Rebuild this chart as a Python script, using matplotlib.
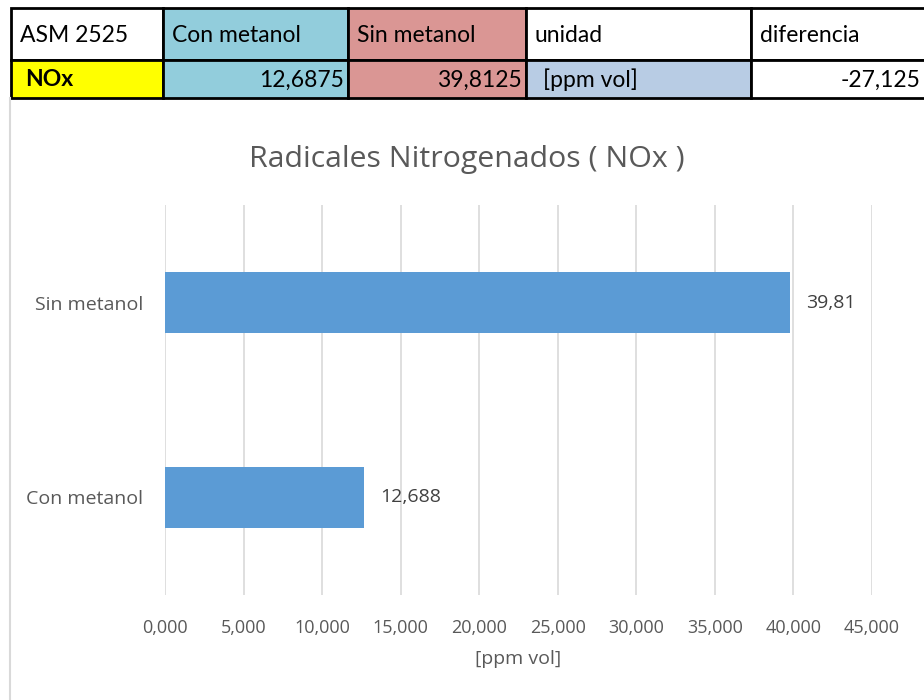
import matplotlib
matplotlib.use("Agg")
import matplotlib.pyplot as plt
from matplotlib.patches import Rectangle
from matplotlib.ticker import FuncFormatter

# ---- data ----
categories = ["Con metanol", "Sin metanol"]
values = [12.6875, 39.8125]
value_labels = ["12,688", "39,81"]
x_ticks = [0, 5, 10, 15, 20, 25, 30, 35, 40, 45]
title = "Radicales Nitrogenados ( NOx )"
x_label = "[ppm vol]"

table_header = ["ASM 2525", "Con metanol", "Sin metanol", "unidad", "diferencia"]
table_row = ["NOx", "12,6875", "39,8125", "[ppm vol]", "-27,125"]

W, H = 924, 700
fig = plt.figure(figsize=(W / 100, H / 100), dpi=100)
fig.patch.set_facecolor("white")

# ---- table overlay (pixel coordinates) ----
tax = fig.add_axes([0, 0, 1, 1])
tax.set_xlim(0, W)
tax.set_ylim(H, 0)
tax.axis("off")

col_edges = [11, 163, 348, 526, 751, 930]
row_edges = [8, 60, 98]
header_colors = ["white", "#92CDDC", "#DA9694", "white", "white"]
row_colors = ["#FFFF00", "#92CDDC", "#DA9694", "#B8CCE4", "white"]
row_align = ["left", "right", "right", "left", "right"]
tfont = "Lato"

for i in range(5):
    x0, x1 = col_edges[i], col_edges[i + 1]
    for r, (texts, colors) in enumerate([(table_header, header_colors), (table_row, row_colors)]):
        y0, y1 = row_edges[r], row_edges[r + 1]
        tax.add_patch(Rectangle((x0, y0), x1 - x0, y1 - y0, facecolor=colors[i],
                                edgecolor="black", linewidth=2))
        if r == 0:
            tax.text(x0 + 9, (y0 + y1) / 2 + 1, texts[i], ha="left", va="center",
                     fontsize=16.5, family=tfont, color="black")
        else:
            al = row_align[i]
            if al == "left":
                xt = x0 + (17 if i == 3 else 14)
            else:
                xt = min(x1, W) - 4
            tax.text(xt, (y0 + y1) / 2 + 1, texts[i], ha=al, va="center",
                     fontsize=16.5, family=tfont, color="black",
                     fontweight="bold" if i == 0 else "normal")

# chart border line on the left
tax.plot([10, 10], [98, 700], color="#D9D9D9", linewidth=1.5)

# ---- bar chart ----
left, right = 165 / W, 872 / W
bottom, top = 1 - 595 / H, 1 - 205 / H
ax = fig.add_axes([left, bottom, right - left, top - bottom])
ax.set_zorder(2)
ax.patch.set_alpha(0)

gray = "#595959"
ypos = list(range(len(categories)))
ax.barh(ypos, values, height=0.31, color="#5B9BD5", zorder=3)
for y, v, lab in zip(ypos, values, value_labels):
    ax.text(v + 1.0, y, lab, ha="left", va="center", fontsize=14, family="Open Sans",
            color="#404040")

ax.set_xlim(0, 45)
ax.set_ylim(-0.5, 1.5)
ax.set_xticks(x_ticks)
ax.xaxis.set_major_formatter(FuncFormatter(lambda v, p: f"{v:.3f}".replace(".", ",")))
ax.set_yticks(ypos)
ax.set_yticklabels(categories)
ax.grid(axis="x", color="#D9D9D9", linewidth=1.2, zorder=0)
for s in ax.spines.values():
    s.set_visible(False)
ax.tick_params(axis="both", length=0, colors=gray)
ax.tick_params(axis="x", pad=17, labelsize=13)
ax.tick_params(axis="y", pad=16, labelsize=14)
for t in ax.get_xticklabels():
    t.set_family("Open Sans")
for t in ax.get_yticklabels():
    t.set_family("Open Sans")
ax.set_xlabel(x_label, fontsize=14, color=gray, family="Open Sans", labelpad=10)

fig.text(467 / W, 1 - 160 / H, title, ha="center", va="center", fontsize=21.8,
         color=gray, family="Open Sans")

fig.savefig("out.png", dpi=100)
